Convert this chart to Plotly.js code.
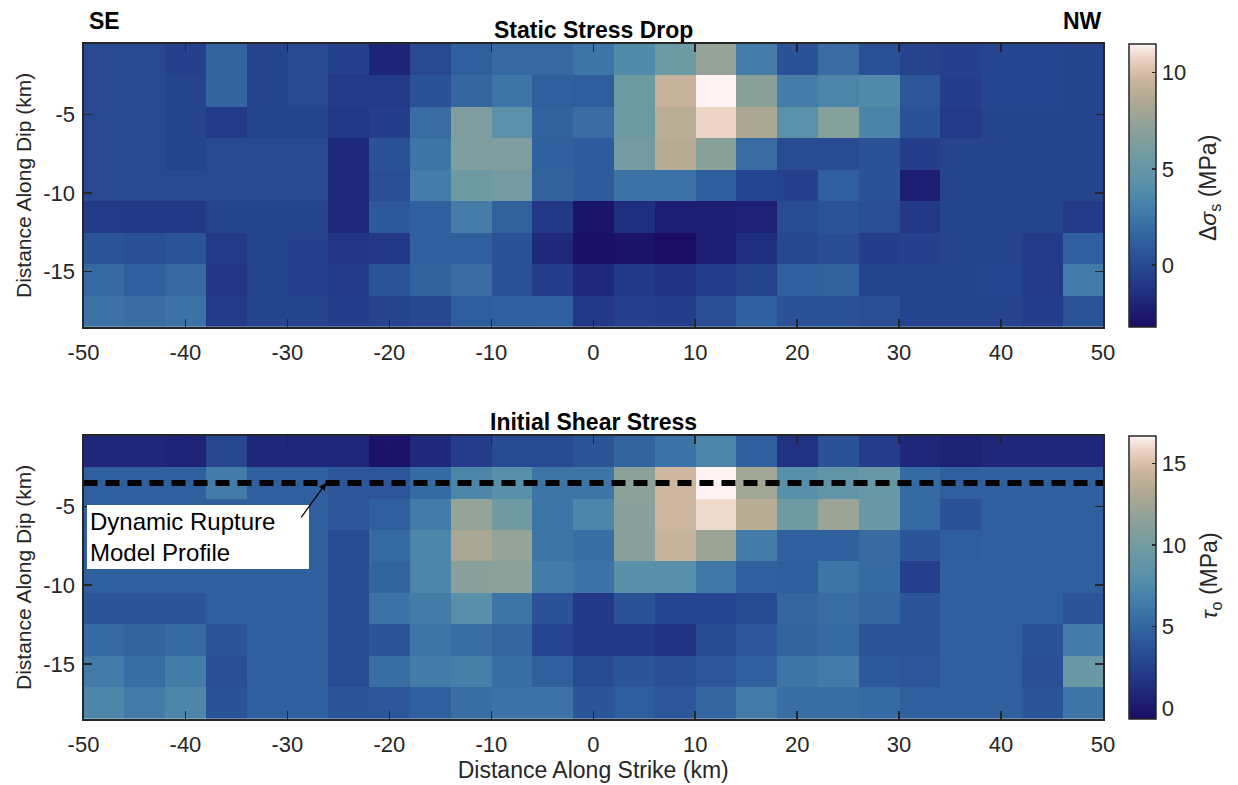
<!DOCTYPE html>
<html>
<head>
<meta charset="utf-8">
<script src="https://cdn.plot.ly/plotly-3.0.1.min.js"></script>
<style>
html,body{margin:0;padding:0;background:#fff;}
#chart{width:1238px;height:785px;}
</style>
</head>
<body>
<div id="chart"></div>
<script>
// Column centres along strike (km) and row centres along dip (km)
var strikeCenters = [-48,-44,-40,-36,-32,-28,-24,-20,-16,-12,-8,-4,0,4,8,12,16,20,24,28,32,36,40,44,48];
var dipCenters = [-1.5,-3.5,-5.5,-7.5,-9.5,-11.5,-13.5,-15.5,-17.5];

// Static stress drop (MPa), rows top (shallow) to bottom (deep)
var stressDrop = [
  [0,0,-0.5,1.5,-0.3,0,-0.5,-2,0,1.2,1.8,1.8,2.5,3.8,5.5,7.5,3,0.5,2,0.4,-0.3,-0.5,-0.2,-0.2,-0.3],
  [0,0,-0.3,1.5,-0.3,0,-0.8,-0.8,0.5,1.6,2.5,1.2,1.1,5.5,9.5,11.5,7,3,3.5,3.8,0.7,-0.6,-0.2,-0.2,-0.3],
  [0,0,-0.3,-0.8,-0.3,-0.3,-1.0,-0.6,2,6.5,4.3,1.4,2,5.5,9,10.8,8.3,4.3,6.8,3.4,0.5,-0.8,-0.3,-0.3,-0.3],
  [0,0,-0.3,0,0,0,-1.8,0.5,2.5,6.5,6.5,1.3,1,5.8,8.8,7,2,0.1,0.1,0.5,-0.6,-0.3,-0.3,-0.3,-0.3],
  [0,0,0,0,0,0,-1.8,0.3,3,5.5,5.8,1.4,1,2.3,2.3,1.1,-0.2,-0.5,1.2,0.5,-2.3,-0.3,-0.3,-0.3,-0.3],
  [-0.8,-0.9,-0.9,-0.3,-0.3,-0.3,-1.8,0.9,1.3,3,1.4,-0.9,-2.8,-1.5,-2.3,-2.3,-2.2,0.1,0.6,0.3,-0.9,-0.3,-0.3,-0.3,-0.8],
  [0.6,0.3,0.6,-0.8,-0.3,-0.5,-1.1,-0.9,1.3,1.2,0.5,-1.8,-3.0,-2.9,-3.2,-2.3,-1.5,-0.1,0.2,-0.6,-0.5,-0.3,-0.3,-0.8,1.2],
  [1.8,1.2,1.8,-1.1,-0.3,-0.5,-0.8,0.6,1.4,2,0.5,-0.6,-1.8,-0.9,-1.3,-0.6,-0.3,1.2,1.4,-0.3,-0.3,-0.3,-0.2,-0.8,2.8],
  [2.3,2,2.3,-0.8,-0.3,-0.3,-0.6,-0.3,-0.1,1.1,1.2,1.3,-0.9,-0.5,-0.6,0.3,1.3,0.5,0.5,0.3,-0.3,-0.3,-0.3,-0.6,0.6]
];

// Initial shear stress (MPa)
var shearStress = [
  [0.9,0.9,0.7,3.0,0.9,0.9,0.9,-0.3,1.1,2.3,3.2,3.2,3.9,4.9,5.9,7.3,4.6,1.6,3.7,2.3,0.9,0.6,0.9,0.9,0.9],
  [4.6,4.6,4.6,6.6,4.6,4.6,4.0,4.0,5.3,7.3,8.0,6.1,6.1,11.5,14.6,16.7,12.5,8.0,8.7,9.2,5.3,4.6,4.7,4.7,4.7],
  [4.6,4.6,4.6,4.6,4.6,4.6,4.0,4.6,6.6,12.0,9.8,6.1,7.3,11.3,14.6,16.0,13.6,9.8,12.2,9.4,5.3,3.7,4.6,4.6,4.6],
  [4.6,4.6,4.6,4.6,4.6,4.6,3.3,5.3,7.3,12.9,12.0,6.1,5.6,11.3,14.4,12.2,6.6,4.7,4.7,5.4,3.9,4.4,4.6,4.6,4.6],
  [4.6,4.6,4.6,4.6,4.6,4.6,3.3,4.9,7.3,11.3,11.5,6.6,5.9,8.0,8.0,6.3,4.7,4.4,6.1,5.3,2.6,4.6,4.6,4.6,4.6],
  [3.9,3.9,3.9,4.6,4.6,4.6,3.3,5.9,6.6,8.0,6.1,3.7,2.1,3.7,2.8,2.8,3.2,5.1,5.6,5.1,3.9,4.6,4.6,4.6,3.9],
  [5.3,4.9,5.3,3.9,4.6,4.6,3.3,3.9,6.1,5.6,5.1,2.8,2.0,2.0,1.6,3.2,4.0,4.9,5.3,3.9,3.9,4.6,4.6,3.7,6.6],
  [6.5,5.6,6.6,3.5,4.6,4.6,3.3,5.6,6.6,6.8,5.6,4.6,3.2,3.9,3.5,4.0,4.7,6.1,6.5,4.2,4.0,4.6,4.6,3.5,9.4],
  [7.3,6.5,7.3,3.7,4.6,4.6,3.9,4.0,4.6,5.6,5.9,5.9,3.9,4.4,4.0,5.1,6.5,5.6,5.6,5.3,4.6,4.6,4.6,3.9,6.1]
];

// Dynamic rupture model profile
var profileX = [-50, 50];
var profileDepth = [-3.5, -3.5];
var arrowTarget = [-26.2, -3.5];

var xTicks = [-50,-40,-30,-20,-10,0,10,20,30,40,50];
var xTickText = ['-50','-40','-30','-20','-10','0','10','20','30','40','50'];
var yTicks = [-15,-10,-5];
var yTickText = ['-15','-10','-5'];
var dropCbarTicks = [0,5,10];
var shearCbarTicks = [0,5,10,15];

var lapaz = [
  [0.00,'#1a0c64'],[0.10,'#1f2a7c'],[0.20,'#26448f'],[0.30,'#2f5f9d'],
  [0.40,'#4078a8'],[0.50,'#5890aa'],[0.60,'#6f9aa2'],[0.70,'#8ca19a'],
  [0.80,'#b0a992'],[0.88,'#cdb69f'],[0.95,'#ebd3c4'],[1.00,'#fef2f3']
];

var W = 1238, H = 785;
var plotL = 83.5, plotR = 1103;
var topT = 44, topB = 326.7, botT = 435.7, botB = 719;
function px(x){return x/W;}
function py(y){return 1 - y/H;}

var FONT = 'Liberation Sans, Arial, Helvetica, sans-serif';
var AX = '#262626';

function cbar(yc, ticks){
  return {
    x:px(1129), xanchor:'left', xpad:0, y:yc, yanchor:'middle',
    len:topB-topT, lenmode:'pixels', ypad:0, thickness:27, thicknessmode:'pixels',
    outlinewidth:1.5, outlinecolor:AX, ticks:'inside', ticklen:4, tickcolor:AX, tickwidth:1.5,
    tickvals:ticks, tickprefix:'\u00a0', tickfont:{family:FONT, size:22, color:AX}
  };
}

var traces = [
  {
    type:'heatmap', x:strikeCenters, y:dipCenters, z:stressDrop,
    xaxis:'x', yaxis:'y', colorscale:lapaz, zmin:-3.2, zmax:11.5,
    hoverinfo:'skip', colorbar:cbar(py((topT+topB)/2), dropCbarTicks)
  },
  {
    type:'heatmap', x:strikeCenters, y:dipCenters, z:shearStress,
    xaxis:'x2', yaxis:'y2', colorscale:lapaz, zmin:-0.65, zmax:16.7,
    hoverinfo:'skip', colorbar:cbar(py((botT+botB)/2), shearCbarTicks)
  },
  {
    type:'scatter', mode:'lines', x:profileX, y:profileDepth, xaxis:'x2', yaxis:'y2',
    line:{color:'#000', width:6, dash:'14px,8px'}, showlegend:false, hoverinfo:'skip'
  }
];

function xax(showTitle){
  var a = {
    domain:[px(plotL), px(plotR)], range:[-50,50], tickvals:xTicks, ticktext:xTickText,
    ticks:'inside', ticklen:8, tickwidth:1.5, tickcolor:AX,
    showline:true, mirror:'ticks', linecolor:AX, linewidth:2,
    showgrid:false, zeroline:false, tickfont:{family:FONT, size:22, color:AX},
    ticklabelstandoff:5
  };
  if(showTitle){ a.title = {text:'Distance Along Strike (km)', font:{family:FONT, size:23, color:AX}, standoff:1}; }
  return a;
}
function yax(dom){
  return {
    domain:dom, range:[-18.5,-0.5], tickvals:yTicks, ticktext:yTickText,
    ticks:'inside', ticklen:8, tickwidth:1.5, tickcolor:AX,
    showline:true, mirror:'ticks', linecolor:AX, linewidth:2,
    showgrid:false, zeroline:false, tickfont:{family:FONT, size:22, color:AX},
    ticklabelstandoff:2,
    title:{text:'Distance Along Dip (km)', font:{family:FONT, size:21, color:AX}, standoff:6}
  };
}

var xa1 = xax(false); xa1.anchor='y';
var xa2 = xax(true); xa2.anchor='y2';
var ya1 = yax([py(topB), py(topT)]); ya1.anchor='x';
var ya2 = yax([py(botB), py(botT)]); ya2.anchor='x2';

var layout = {
  width:W, height:H, margin:{l:0,r:0,t:0,b:0},
  paper_bgcolor:'#fff', plot_bgcolor:'#fff', showlegend:false,
  xaxis:xa1, yaxis:ya1, xaxis2:xa2, yaxis2:ya2,
  annotations:[
    {xref:'paper', yref:'paper', x:px((plotL+plotR)/2), y:py(30), xanchor:'center', yanchor:'middle',
     text:'<b>Static Stress Drop</b>', showarrow:false, font:{family:FONT, size:23, color:'#000'}},
    {xref:'paper', yref:'paper', x:px((plotL+plotR)/2), y:py(422), xanchor:'center', yanchor:'middle',
     text:'<b>Initial Shear Stress</b>', showarrow:false, font:{family:FONT, size:23, color:'#000'}},
    {xref:'paper', yref:'paper', x:px(87), y:py(21), xanchor:'left', yanchor:'middle',
     text:'<b>SE</b>', showarrow:false, font:{family:FONT, size:23, color:'#000'}},
    {xref:'paper', yref:'paper', x:px(1104), y:py(21), xanchor:'right', yanchor:'middle',
     text:'<b>NW</b>', showarrow:false, font:{family:FONT, size:23, color:'#000'}},
    {xref:'paper', yref:'paper', x:px(1210), y:py(188), xanchor:'center', yanchor:'middle', textangle:-90,
     text:'Δ<i>σ</i><sub>s</sub> (MPa)', showarrow:false, font:{family:FONT, size:23, color:AX}},
    {xref:'paper', yref:'paper', x:px(1210), y:py(576), xanchor:'center', yanchor:'middle', textangle:-90,
     text:'<i>τ</i><sub>o</sub> (MPa)', showarrow:false, font:{family:FONT, size:23, color:AX}},
    {xref:'paper', yref:'paper', x:px(87), y:py(505), xanchor:'left', yanchor:'top',
     text:'Dynamic Rupture<br>Model Profile', align:'left', showarrow:false,
     bgcolor:'#ffffff', bordercolor:'#ffffff', borderpad:2, width:216,
     font:{family:FONT, size:24, color:'#000'}},
    {xref:'x2', yref:'y2', x:arrowTarget[0], y:arrowTarget[1], text:'', showarrow:true,
     axref:'pixel', ayref:'pixel', ax:-26, ay:36, arrowhead:2, arrowsize:1.2, arrowwidth:1.2, arrowcolor:'#000', standoff:0}
  ]
};

Plotly.newPlot('chart', traces, layout, {displayModeBar:false, staticPlot:true});
</script>
</body>
</html>
